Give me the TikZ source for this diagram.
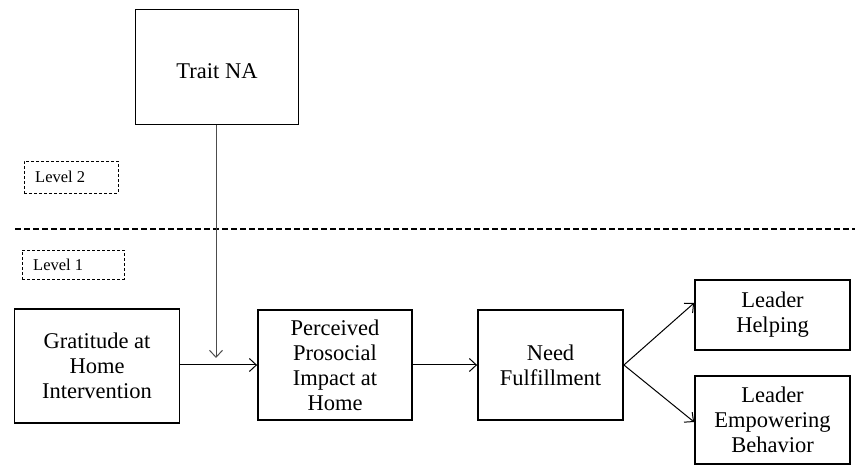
\documentclass[tikz,border=0pt]{standalone}
\usepackage{fontspec}
\setmainfont{Liberation Serif}
\usetikzlibrary{arrows.meta}
\begin{document}
\begin{tikzpicture}[x=1pt,y=-1pt,
  box/.style={draw, line width=1.8pt, inner sep=0pt, font=\fontsize{22.5}{25}\selectfont, align=center},
  lvl/.style={draw, dashed, line width=0.7pt, dash pattern=on 3pt off 2pt, inner sep=0pt, font=\fontsize{16.5}{18}\selectfont},
  arr/.style={-{Straight Barb[length=7pt,width=13pt]}, line width=1pt}]
\useasboundingbox (0,0) rectangle (855,473);
\node[box, minimum width=163pt, minimum height=115pt] (trait) at (217,67) {};
\node[font=\fontsize{22.5}{25}\selectfont] (traitlbl) at (217,71) {Trait NA};
\node[lvl, minimum width=94pt, minimum height=32pt] (l2) at (71,177) {};
\node[anchor=west, inner sep=0pt, font=\fontsize{16.5}{18}\selectfont] (l2t) at (35,177) {Level 2};
\node[lvl, minimum width=102pt, minimum height=29pt] (l1) at (73,264.5) {};
\node[anchor=west, inner sep=0pt, font=\fontsize{16.5}{18}\selectfont] (l1t) at (33,264.5) {Level 1};
\coordinate (dl) at (15,229);
\coordinate (dr) at (855,229);
\draw[dashed, line width=1.5pt, dash pattern=on 6pt off 3pt] (dl) -- (dr);
\node[box, minimum width=165pt, minimum height=114pt] (grat) at (97,366) {Gratitude at\\Home\\Intervention};
\node[box, minimum width=154pt, minimum height=110pt] (perc) at (335,365) {Perceived\\Prosocial\\Impact at\\Home};
\node[box, minimum width=145pt, minimum height=110pt] (need) at (550.5,365) {Need\\Fulfillment};
\node[box, minimum width=155pt, minimum height=70pt] (help) at (772.5,315) {Leader\\Helping};
\node[box, minimum width=155pt, minimum height=88pt] (emp) at (772.5,420) {Leader\\Empowering\\Behavior};
\coordinate (mod) at (216,358);
\draw[arr, draw=black!70] (trait.south -| mod) -- (mod);
\draw[arr] (grat.east |- perc.west) -- (perc.west);
\draw[arr] (perc.east) -- (need.west);
\draw[arr] (need.east) -- (help.west |- 0,303);
\draw[arr] (need.east) -- (emp.west |- 0,422);
\end{tikzpicture}
\end{document}
